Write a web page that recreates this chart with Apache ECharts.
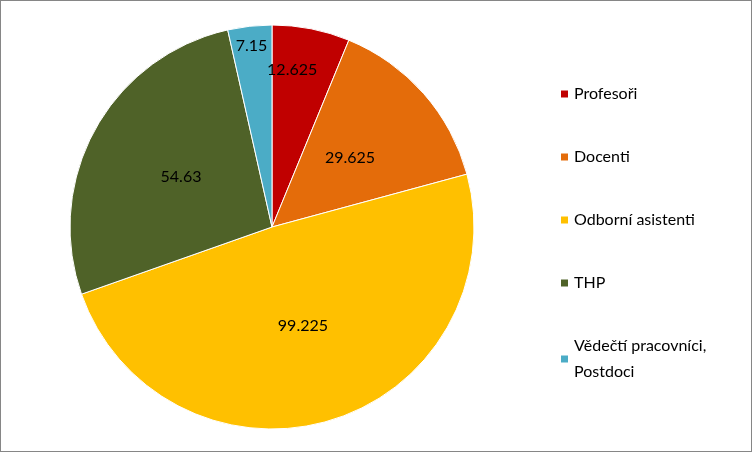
<!DOCTYPE html>
<html><head><meta charset="utf-8">
<script src="https://cdn.jsdelivr.net/npm/echarts@6/dist/echarts.min.js"></script>
<style>html,body{margin:0;padding:0;background:#fff}
#main{width:750px;height:450px;border:1px solid #868686}</style>
</head><body>
<div id="main"></div>
<script>
var names = ['Profesoři', 'Docenti', 'Odborní asistenti', 'THP', 'Vědečtí pracovníci,\nPostdoci'];
var values = [12.625, 29.625, 99.225, 54.63, 7.15];
var colors = ['#C00000', '#E46C0A', '#FFC000', '#4F6228', '#4BACC6'];
// label nudges for the narrow slices (Excel puts them nearer the rim)
var labelOffsets = [[0, -55], [0, 0], [0, 0], [0, 0], [-9, -78]];

var myChart = echarts.init(document.getElementById('main'));
var data = names.map(function (n, i) {
  return { name: n, value: values[i], label: { offset: labelOffsets[i] } };
});
var option = {
  color: colors,
  legend: {
    orient: 'vertical',
    left: 553,
    top: 75,
    itemWidth: 9,
    itemHeight: 9,
    itemGap: 37,
    icon: 'rect',
    textStyle: { fontFamily: 'Lato', fontSize: 16, color: '#000', lineHeight: 26 }
  },
  series: [{
    type: 'pie',
    center: [271, 226],
    radius: 202,
    startAngle: 90,
    clockwise: true,
    avoidLabelOverlap: false,
    data: data,
    label: {
      position: 'inside',
      fontFamily: 'Lato',
      fontSize: 16,
      color: '#000',
      formatter: function (p) { return p.value; }
    },
    labelLayout: { hideOverlap: false },
    itemStyle: { borderColor: '#fff', borderWidth: 1 },
    animation: false
  }]
};
myChart.setOption(option);
</script>
</body></html>
